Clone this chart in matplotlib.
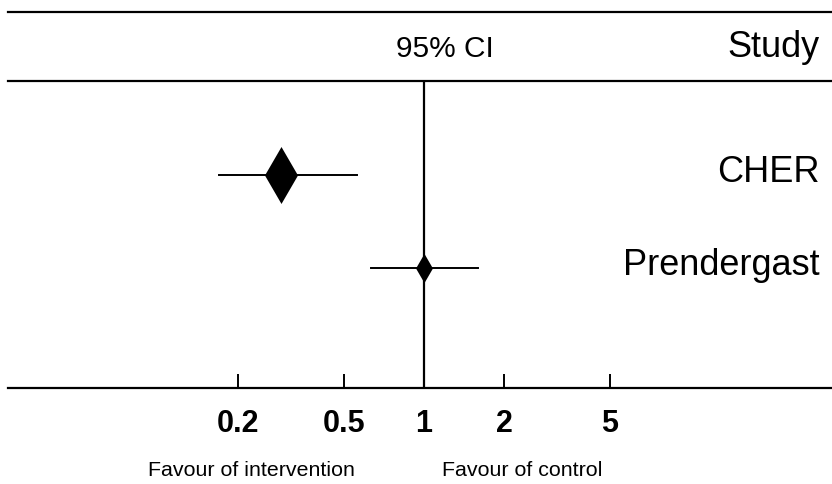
import matplotlib
matplotlib.use("Agg")
import matplotlib.pyplot as plt
import matplotlib.transforms as mtransforms
from matplotlib.lines import Line2D

plt.rcParams['font.family'] = ['Liberation Sans', 'DejaVu Sans']

# data
studies = ['CHER', 'Prendergast']
estimate = [0.29, 1.0]
ci_low = [0.17, 0.632]
ci_high = [0.56, 1.596]
tick_vals = [0.2, 0.5, 1, 2, 5]
tick_labels = ['0.2', '0.5', '1', '2', '5']
favour_left = 'Favour of intervention'
favour_right = 'Favour of control'

W, H = 832, 484
fig = plt.figure(figsize=(W / 100, H / 100), dpi=100)
# axes: x 8..832 px, y 81..388 px (from top)
ax = fig.add_axes([8 / W, (H - 388) / H, (W - 8) / W, (388 - 81) / H])
ax.set_xscale('log')
ax.set_xlim(0.0273, 34.2)
ax.set_ylim(2.29, -1.01)

lw = 1.6
diamond = [(0, 1), (0.58, 0), (0, -1), (-0.58, 0), (0, 1)]
msizes = [41, 21]

ax.axvline(1, color='black', lw=lw, zorder=1)
for i in range(len(studies)):
    ax.plot([ci_low[i], ci_high[i]], [i, i], color='black', lw=1.4, zorder=2)
    ax.plot(estimate[i], i, marker=diamond, markersize=msizes[i],
            color='black', markeredgewidth=0, zorder=3)

# study names, right aligned
tr = mtransforms.blended_transform_factory(fig.transFigure, ax.transData)
tr = mtransforms.offset_copy(tr, fig=fig, y=-7, units='dots')
for i, name in enumerate(studies):
    ax.text(820 / W, i, name, transform=tr, ha='right', va='baseline',
            fontsize=26)

# header
fig.text(445 / W, 1 - 57 / H, '95% CI', ha='center', va='baseline', fontsize=21.5)
fig.text(820 / W, 1 - 57 / H, 'Study', ha='right', va='baseline', fontsize=26)
fig.add_artist(Line2D([8 / W, 1], [1 - 12 / H, 1 - 12 / H], color='black', lw=lw))

for s in ['left', 'right']:
    ax.spines[s].set_visible(False)
ax.spines['top'].set_linewidth(lw)
ax.spines['bottom'].set_linewidth(lw)
ax.set_yticks([])
ax.set_xticks(tick_vals)
ax.set_xticklabels(tick_labels, fontsize=22, fontweight='bold')
ax.minorticks_off()
ax.tick_params(axis='x', direction='in', length=10, width=1.4, pad=15)

# favour labels
fig.text(251 / W, 1 - 476 / H, favour_left, ha='center', va='baseline', fontsize=15.4)
fig.text(522 / W, 1 - 476 / H, favour_right, ha='center', va='baseline', fontsize=15.4)

fig.savefig('out.png', dpi=100)
